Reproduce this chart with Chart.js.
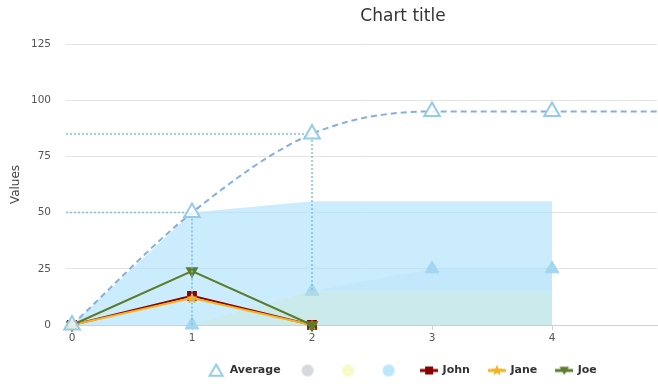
<!DOCTYPE html>
<html><head><meta charset="utf-8">
<script src="https://cdn.jsdelivr.net/npm/chart.js@4/dist/chart.umd.min.js"></script>
<style>html,body{margin:0;padding:0;background:#fff}#wrap{width:658px;height:388px}</style>
</head><body><div id="wrap"><canvas id="c" width="658" height="388"></canvas></div>
<script>
// ---- data ----
const categories = [0, 1, 2, 3, 4];
const averageX = [0, 1, 2, 3, 4, 5];
const averageValues = [0, 50, 85, 95, 95, 95];
const areaGrey = [0, 0, 0, 0, 0];
const areaYellow = [0, 0, 15, 15, 15];
const areaBlue = [0, 50, 55, 55, 55];
const areaBlueInner = [0, 0, 15, 25, 25];
const johnValues = [0, 13, 0];
const janeValues = [0, 12, 0];
const joeValues = [0, 24, 0];
const dropIndices = [1, 2];
const yTicks = [0, 25, 50, 75, 100, 125];
const X_MIN = -0.05, X_MAX = 4.875;

const FONT = "'DejaVu Sans', sans-serif";
const toXY = (xs, ys) => ys.map((v, i) => ({x: xs[i], y: v}));

function makeIcon(w, h, fn) { const c = document.createElement('canvas'); c.width = w; c.height = h; fn(c.getContext('2d'), w, h); return c; }
function triPath(g, cx, cy, r, down) {
  const s = down ? -1 : 1; g.beginPath();
  g.moveTo(cx, cy - s * r);
  g.lineTo(cx + r * 0.866, cy + s * r * 0.5);
  g.lineTo(cx - r * 0.866, cy + s * r * 0.5);
  g.closePath();
}
function starPath(g, cx, cy, R, r) {
  g.beginPath();
  for (let i = 0; i < 10; i++) {
    const a = -Math.PI / 2 + i * Math.PI / 5; const rr = i % 2 ? r : R;
    g.lineTo(cx + rr * Math.cos(a), cy + rr * Math.sin(a));
  }
  g.closePath();
}
const C = {avgLine: '#86afdc', avgMark: '#95cbe6', john: '#8b0000', jane: '#f5b324', joe: '#5a7d2c', drop: '#7cc2e2', innerMark: '#a3d6ef'};

const starImg = makeIcon(12, 12, (g) => { starPath(g, 6, 6.5, 6, 2.8); g.fillStyle = C.jane; g.fill(); });
const iconAvg = makeIcon(18, 17, (g) => { triPath(g, 9, 10, 7.5, false); g.strokeStyle = C.avgMark; g.lineWidth = 2; g.stroke(); });
const circ = (col) => makeIcon(14, 14, (g) => { g.beginPath(); g.arc(7, 7, 6, 0, Math.PI * 2); g.fillStyle = col; g.fill(); });
const lineIcon = (col, mark) => makeIcon(18, 12, (g) => {
  g.strokeStyle = col; g.lineWidth = 3; g.beginPath(); g.moveTo(0, 6); g.lineTo(18, 6); g.stroke();
  g.fillStyle = col;
  if (mark === 'sq') g.fillRect(5, 2, 8, 8);
  if (mark === 'star') { starPath(g, 9, 6, 6, 2.6); g.fill(); }
  if (mark === 'down') { triPath(g, 9, 5, 5.5, true); g.fill(); }
});
const legendIcons = [iconAvg, circ('#d5d8de'), circ('#f6fbc6'), circ('#bce6fb'), lineIcon(C.john, 'sq'), lineIcon(C.jane, 'star'), lineIcon(C.joe, 'down')];
const legendNames = ['Average', '', '', '', 'John', 'Jane', 'Joe'];

const datasets = [
  {label: 'Average', data: toXY(averageX, averageValues), borderColor: C.avgLine, borderWidth: 2, borderDash: [6, 4],
   cubicInterpolationMode: 'monotone', fill: false, pointStyle: 'triangle', pointRadius: 9, pointHoverRadius: 9, pointBorderColor: C.avgMark,
   pointBackgroundColor: 'rgba(255,255,255,0.85)', pointBorderWidth: 2, order: 0, clip: false},
  {label: '', data: toXY(categories, areaGrey), borderWidth: 0, borderColor: 'rgba(0,0,0,0)', backgroundColor: 'rgba(200,203,210,0.3)', fill: 'origin', pointRadius: 0, order: 13},
  {label: '', data: toXY(categories, areaYellow), borderWidth: 0, borderColor: 'rgba(0,0,0,0)', backgroundColor: 'rgba(240,240,150,0.15)', fill: 'origin', pointRadius: 0, order: 11},
  {label: '', data: toXY(categories, areaBlue), borderWidth: 0, borderColor: 'rgba(0,0,0,0)', backgroundColor: 'rgba(175,226,250,0.65)', fill: 'origin', pointRadius: 0, order: 14},
  {label: 'John', data: toXY(categories, johnValues), borderColor: C.john, borderWidth: 2, pointStyle: 'rect', pointRadius: 5.5, pointBackgroundColor: C.john, pointBorderColor: C.john, fill: false, order: 4, clip: false},
  {label: 'Jane', data: toXY(categories, janeValues), borderColor: C.jane, borderWidth: 2, pointStyle: starImg, pointRadius: 6, fill: false, order: 3, clip: false},
  {label: 'Joe', data: toXY(categories, joeValues), borderColor: C.joe, borderWidth: 2, pointStyle: 'triangle', rotation: 180, pointRadius: 5.5, pointBackgroundColor: C.joe, pointBorderColor: C.joe, fill: false, order: 2, clip: false},
  {label: '_inner', data: toXY(categories, areaBlueInner), borderWidth: 0, borderColor: 'rgba(0,0,0,0)', backgroundColor: 'rgba(160,215,245,0.2)', fill: 'origin',
   pointStyle: 'triangle', pointRadius: 8, pointBackgroundColor: C.innerMark, pointBorderColor: C.innerMark, pointBorderWidth: 1, order: 12, clip: false},
];
dropIndices.forEach(i => {
  datasets.push({label: '_drop', data: [{x: X_MIN, y: averageValues[i]}, {x: categories[i], y: averageValues[i]}, {x: categories[i], y: areaBlueInner[i]}],
    borderColor: C.drop, borderWidth: 1.5, borderDash: [2, 2], pointRadius: 0, fill: false, tension: 0, order: 1});
});

const LEGEND_SHIFT = 74;
const helpers = {
  id: 'helpers',
  beforeInit(chart) {
    const lg = chart.legend; if (!lg) return;
    const orig = lg.fit.bind(lg);
    lg.fit = function () { orig(); this.height = 42; };
  },
  afterLayout(chart) { const lg = chart.legend; if (lg) { lg.left += LEGEND_SHIFT; lg.right += LEGEND_SHIFT; } },
  afterDraw(chart) {
    const g = chart.ctx; g.save(); g.font = `17px ${FONT}`; g.fillStyle = '#333'; g.textAlign = 'center'; g.textBaseline = 'middle';
    g.fillText('Chart title', 403, 17); g.restore();
  }
};

new Chart(document.getElementById('c'), {
  type: 'line',
  data: {datasets},
  plugins: [helpers],
  options: {
    responsive: false, animation: false, devicePixelRatio: 1,
    layout: {autoPadding: false, padding: {top: 44, right: 1, left: 0, bottom: 0}},
    plugins: {
      tooltip: {enabled: false},
      title: {display: false},
      legend: {
        position: 'bottom', align: 'center',
        labels: {
          usePointStyle: true, pointStyleWidth: 16, padding: 19, color: '#333',
          font: {family: FONT, size: 11, weight: 'bold'},
          generateLabels: () => legendNames.map((t, i) => ({text: t, pointStyle: legendIcons[i], hidden: false, datasetIndex: i, lineWidth: 0, fontColor: '#333'}))
        }
      }
    },
    scales: {
      x: {
        type: 'linear', min: X_MIN, max: X_MAX,
        afterBuildTicks: (s) => { s.ticks = categories.map(v => ({value: v})); },
        afterFit: (s) => { s.height = 21; },
        grid: {drawOnChartArea: false, drawTicks: true, tickLength: 5, color: '#cdd0d6'},
        border: {color: '#cdd0d6'},
        ticks: {padding: 2, color: '#555', font: {family: FONT, size: 10.5}, maxRotation: 0}
      },
      y: {
        min: 0, max: 125,
        afterBuildTicks: (s) => { s.ticks = yTicks.map(v => ({value: v})); },
        afterFit: (s) => { s.width = 66; },
        grid: {color: '#e4e4e4', drawTicks: false},
        border: {display: false},
        ticks: {padding: 15, color: '#555', font: {family: FONT, size: 10.5}},
        title: {display: true, text: 'Values', color: '#444', font: {family: FONT, size: 12}, padding: {top: 9, bottom: 0}}
      }
    }
  }
});
</script>
</body></html>
